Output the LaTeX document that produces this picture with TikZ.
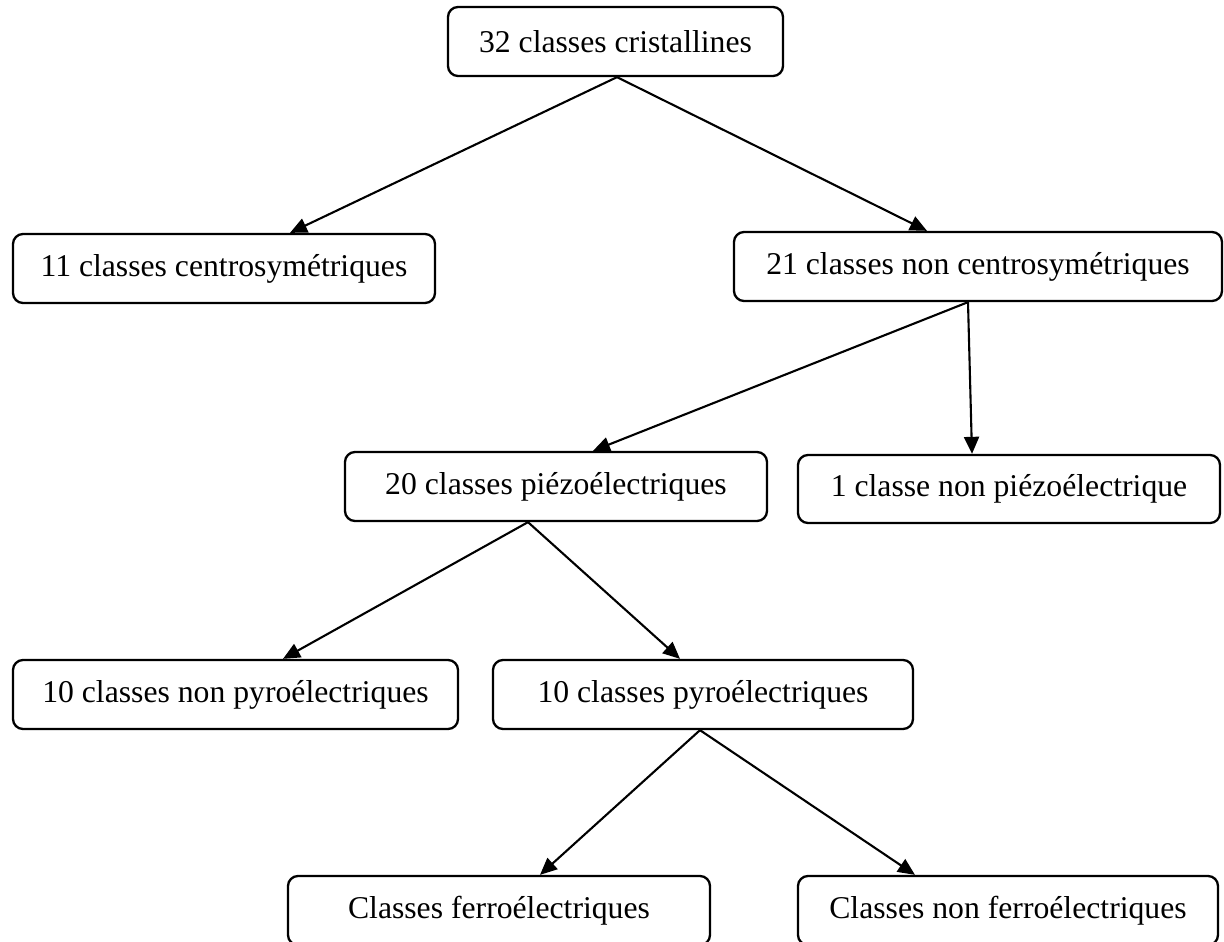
\documentclass[tikz,border=0pt]{standalone}
\usepackage{fontspec}
\setmainfont{Liberation Serif}
\usetikzlibrary{arrows.meta}
\begin{document}
\begin{tikzpicture}[x=1pt,y=-1pt,
  box/.style={draw, line width=2.3pt, rounded corners=10pt, rectangle,
    inner sep=0pt, font=\fontsize{31.7}{38}\selectfont},
  arr/.style={line width=2.1pt, -{Triangle[length=17pt,width=15pt]}}]
\useasboundingbox (0,0) rectangle (1224,942);
\node[box, minimum width=335pt, minimum height=69pt] (n1) at (615.5,41.5) {32 classes cristallines};
\node[box, minimum width=422pt, minimum height=69pt] (n2) at (224,268.5) {11 classes centrosymétriques};
\node[box, minimum width=488pt, minimum height=69pt] (n3) at (978,266.5) {21 classes non centrosymétriques};
\node[box, minimum width=422pt, minimum height=69pt] (n4) at (556,486.5) {20 classes piézoélectriques};
\node[box, minimum width=422pt, minimum height=68pt] (n5) at (1009,489) {1 classe non piézoélectrique};
\node[box, minimum width=445pt, minimum height=69pt] (n6) at (235.5,694.5) {10 classes non pyroélectriques};
\node[box, minimum width=420pt, minimum height=69pt] (n7) at (703,694.5) {10 classes pyroélectriques};
\node[box, minimum width=422pt, minimum height=69pt] (n8) at (499,910.5) {Classes ferroélectriques};
\node[box, minimum width=420pt, minimum height=69pt] (n9) at (1008,910.5) {Classes non ferroélectriques};
\draw[arr] ([xshift=1.5pt]n1.south) -- ([xshift=66pt]n2.north);
\draw[arr] ([xshift=1.5pt]n1.south) -- ([xshift=-51pt]n3.north);
\draw[arr] ([xshift=-10pt]n3.south) -- ([xshift=37pt]n4.north);
\draw[arr] ([xshift=-10pt]n3.south) -- ([xshift=-37pt]n5.north);
\draw[arr] ([xshift=-28pt]n4.south) -- ([xshift=47.5pt]n6.north);
\draw[arr] ([xshift=-28pt]n4.south) -- ([xshift=-23pt]n7.north);
\draw[arr] ([xshift=-3pt]n7.south) -- ([xshift=41pt]n8.north);
\draw[arr] ([xshift=-3pt]n7.south) -- ([xshift=-93pt]n9.north);
\end{tikzpicture}
\end{document}
